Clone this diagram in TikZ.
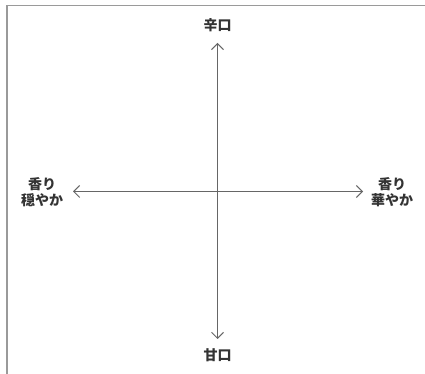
\documentclass[tikz,border=0pt]{standalone}
\usepackage{fontspec}
\newfontfamily\cjk{Noto Sans CJK JP}
\usetikzlibrary{arrows.meta}
\definecolor{framegray}{HTML}{9A9A9A}
\definecolor{axisgray}{HTML}{666666}
\definecolor{textdark}{HTML}{333333}
\tikzset{
  axis/.style={draw=axisgray, line width=1pt, {Straight Barb[length=6pt,width=12pt]}-{Straight Barb[length=6pt,width=12pt]}},
  lbl/.style={font=\cjk\bfseries\fontsize{14}{16}\selectfont, text=textdark, align=center, inner sep=0pt},
  frame/.style={draw=framegray, line width=1.8pt}
}
\begin{document}
\begin{tikzpicture}[x=1pt,y=1pt]
\useasboundingbox (0,0) rectangle (425,374);
\coordinate (fr) at (425,368.5);
\coordinate (fc) at (7.3,368.5);
\coordinate (fb) at (7.3,0);
\draw[frame] (fr) -- (fc) -- (fb);
\node[lbl] (top) at (217.5,349) {辛口};
\node[lbl] (bot) at (217.5,19) {甘口};
\node[lbl] (left) at (42,181.5) {香り\\穏やか};
\node[lbl] (right) at (392,181.5) {香り\\華やか};
\coordinate (vt) at (217.5,331);
\coordinate (vb) at (217.5,35);
\coordinate (hl) at (73,182.5);
\coordinate (hr) at (363,182.5);
\draw[axis] (vb) -- (vt);
\draw[axis] (hl) -- (hr);
\end{tikzpicture}
\end{document}
